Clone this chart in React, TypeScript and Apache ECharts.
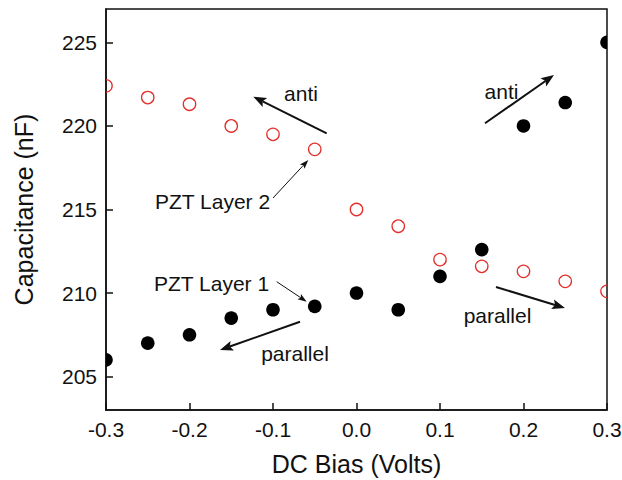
import React, { useEffect, useRef } from "react";
import * as echarts from "echarts";

// DC bias (Volts)
const biasVolts = [-0.3, -0.25, -0.2, -0.15, -0.1, -0.05, 0.0, 0.05, 0.1, 0.15, 0.2, 0.25, 0.3];
// PZT Layer 1 (filled black)
const layer1Capacitance = [206.0, 207.0, 207.5, 208.5, 209.0, 209.2, 210.0, 209.0, 211.0, 212.6, 220.0, 221.4, 225.0];
// PZT Layer 2 (open red)
const layer2Capacitance = [222.4, 221.7, 221.3, 220.0, 219.5, 218.6, 215.0, 214.0, 212.0, 211.6, 211.3, 210.7, 210.1];
const yTickValues = [205, 210, 215, 220, 225];
const xTickValues = [-0.3, -0.2, -0.1, 0.0, 0.1, 0.2, 0.3];

const FONT = "'Liberation Sans', Arial, sans-serif";
const INK = "#111";

function arrow(x1: number, y1: number, x2: number, y2: number, w: number, headLen: number, headHalf: number) {
  const dx = x2 - x1, dy = y2 - y1;
  const L = Math.hypot(dx, dy);
  const ux = dx / L, uy = dy / L;
  const bx = x2 - ux * headLen, by = y2 - uy * headLen;
  const px = -uy, py = ux;
  const nx = bx + ux * headLen * 0.2, ny = by + uy * headLen * 0.2;
  return [
    { type: "line", z: 100, shape: { x1, y1, x2: nx, y2: ny }, style: { stroke: INK, lineWidth: w } },
    {
      type: "polygon", z: 100,
      shape: { points: [[x2, y2], [bx + px * headHalf, by + py * headHalf], [nx, ny], [bx - px * headHalf, by - py * headHalf]] },
      style: { fill: INK },
    },
  ];
}

function label(text: string, x: number, y: number) {
  return {
    type: "text", z: 100, x, y,
    style: { text, fill: INK, font: `21px ${FONT}`, align: "center", verticalAlign: "middle" },
  };
}

export default function App() {
  const ref = useRef<HTMLDivElement>(null);
  useEffect(() => {
    if (!ref.current) return;
    const chart = echarts.init(ref.current, undefined, { renderer: "svg" });
    const circleSeries = (name: string, values: number[], filled: boolean) => ({
      name,
      type: "custom",
      clip: true,
      coordinateSystem: "cartesian2d",
      encode: { x: 0, y: 1 },
      data: biasVolts.map((x, i) => [x, values[i]]),
      renderItem: (_p: any, api: any) => {
        const pt = api.coord([api.value(0), api.value(1)]);
        return {
          type: "circle",
          shape: { cx: pt[0], cy: pt[1], r: filled ? 6.8 : 6.2 },
          style: filled
            ? { fill: "#000" }
            : { fill: "rgba(0,0,0,0)", stroke: "#e3302c", lineWidth: 1.3 },
        };
      },
    });
    const axisCommon = {
      axisLine: { show: true, onZero: false, lineStyle: { color: INK, width: 1.5 } },
      axisTick: { show: true, inside: true, length: 7, lineStyle: { color: INK, width: 1.5 } },
      splitLine: { show: false },
      nameTextStyle: { fontSize: 25, color: INK, fontFamily: FONT },
    };
    chart.setOption({
      animation: false,
      backgroundColor: "#fff",
      grid: {
        left: 106, right: 15, top: 9, bottom: 70,
        show: true, borderColor: INK, borderWidth: 1.5,
        outerBoundsMode: "none",
      },
      xAxis: {
        type: "value",
        min: -0.3, max: 0.3,
        name: "DC Bias (Volts)",
        nameLocation: "middle",
        nameGap: 41,
        ...axisCommon,
        axisTick: { ...axisCommon.axisTick, customValues: xTickValues },
        axisLabel: {
          customValues: xTickValues,
          formatter: (v: number) => v.toFixed(1),
          fontSize: 21, color: INK, fontFamily: FONT, margin: 9,
        },
      },
      yAxis: {
        type: "value",
        min: 203, max: 227,
        name: "Capacitance (nF)",
        nameLocation: "middle",
        nameRotate: 90,
        nameGap: 70,
        ...axisCommon,
        axisTick: { ...axisCommon.axisTick, customValues: yTickValues },
        axisLabel: {
          customValues: yTickValues,
          formatter: (v: number) => String(v),
          fontSize: 21, color: INK, fontFamily: FONT, margin: 9,
        },
      },
      series: [
        circleSeries("PZT Layer 1", layer1Capacitance, true),
        circleSeries("PZT Layer 2", layer2Capacitance, false),
      ],
      graphic: [
        label("anti", 301, 93),
        ...arrow(326.7, 133.3, 253.3, 96.7, 2, 13, 5),
        label("PZT Layer 2", 212.5, 201.5),
        ...arrow(273, 198, 308.3, 160, 1, 9, 3.2),
        label("anti", 501.5, 91.5),
        ...arrow(485, 123.3, 554, 75, 2, 13, 5),
        label("PZT Layer 1", 211.5, 283),
        ...arrow(276.7, 281.7, 306.7, 301.7, 1, 9, 3.2),
        ...arrow(300, 321.7, 220, 350, 2, 13, 5),
        label("parallel", 295, 353),
        ...arrow(496, 287, 565, 308, 2, 13, 5),
        label("parallel", 497.5, 315),
      ],
    });
    return () => chart.dispose();
  }, []);
  return <div ref={ref} style={{ position: "absolute", left: 0, top: 0, width: 622, height: 480 }} />;
}
